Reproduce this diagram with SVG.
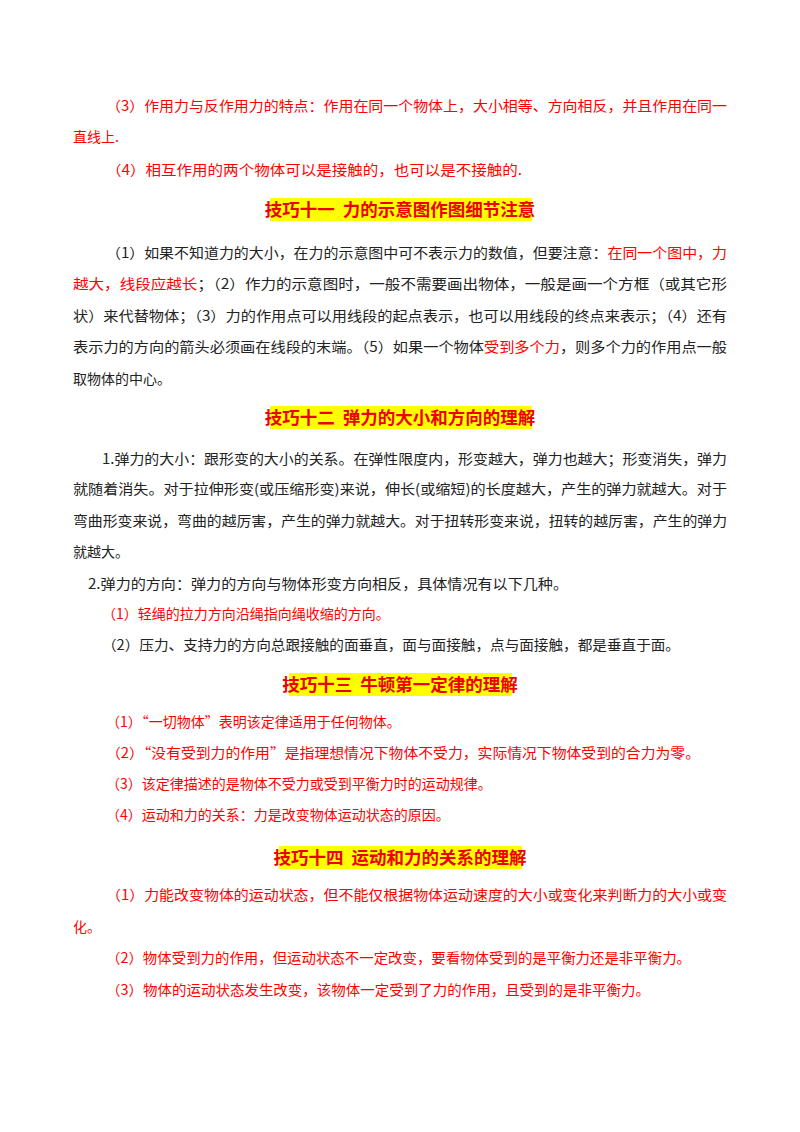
<svg xmlns="http://www.w3.org/2000/svg" width="800" height="1132" viewBox="0 0 800 1132">
<style>
text{font-family:"Noto Sans CJK SC","Liberation Sans",sans-serif;font-size:14px;fill:#222}
.r{fill:#f00}
.h{font-size:17.5px;font-weight:bold;fill:#e00;text-anchor:middle;white-space:pre}
.hb{fill:#ff0}
</style>
<rect width="800" height="1132" fill="#fff"/>
<g id="p10">
<text class="r" x="106" y="111" textLength="621" lengthAdjust="spacingAndGlyphs">（3）作用力与反作用力的特点：作用在同一个物体上，大小相等、方向相反，并且作用在同一</text>
<text class="r" x="73" y="142">直线上.</text>
<text class="r" x="106" y="175" textLength="416" lengthAdjust="spacingAndGlyphs">（4）相互作用的两个物体可以是接触的，也可以是不接触的.</text>
</g>
<g id="h11"><rect class="hb" x="270" y="198" width="262" height="23"/><text class="h" x="400" y="216" xml:space="preserve">技巧十一  力的示意图作图细节注意</text></g>
<g id="p11">
<text x="106" y="258" textLength="621" lengthAdjust="spacingAndGlyphs">（1）如果不知道力的大小，在力的示意图中可不表示力的数值，但要注意：<tspan class="r">在同一个图中，力</tspan></text>
<text x="73" y="289" textLength="654" lengthAdjust="spacingAndGlyphs"><tspan class="r">越大，线段应越长</tspan>；（2）作力的示意图时，一般不需要画出物体，一般是画一个方框（或其它形</text>
<text x="73" y="321" textLength="654" lengthAdjust="spacingAndGlyphs">状）来代替物体；（3）力的作用点可以用线段的起点表示，也可以用线段的终点来表示；（4）还有</text>
<text x="73" y="352" textLength="654" lengthAdjust="spacingAndGlyphs">表示力的方向的箭头必须画在线段的末端。（5）如果一个物体<tspan class="r">受到多个力</tspan>，则多个力的作用点一般</text>
<text x="73" y="384">取物体的中心。</text>
</g>
<g id="h12"><rect class="hb" x="270" y="406" width="262" height="23"/><text class="h" x="400" y="424" xml:space="preserve">技巧十二  弹力的大小和方向的理解</text></g>
<g id="p12">
<text x="102" y="464" textLength="625" lengthAdjust="spacingAndGlyphs">1.弹力的大小：跟形变的大小的关系。在弹性限度内，形变越大，弹力也越大；形变消失，弹力</text>
<text x="73" y="494" textLength="654" lengthAdjust="spacingAndGlyphs">就随着消失。对于拉伸形变(或压缩形变)来说，伸长(或缩短)的长度越大，产生的弹力就越大。对于</text>
<text x="73" y="526" textLength="654" lengthAdjust="spacingAndGlyphs">弯曲形变来说，弯曲的越厉害，产生的弹力就越大。对于扭转形变来说，扭转的越厉害，产生的弹力</text>
<text x="73" y="557">就越大。</text>
<text x="88" y="589" textLength="480" lengthAdjust="spacingAndGlyphs">2.弹力的方向：弹力的方向与物体形变方向相反，具体情况有以下几种。</text>
<text class="r" x="102" y="619">（1）轻绳的拉力方向沿绳指向绳收缩的方向。</text>
<text x="102" y="650" textLength="578" lengthAdjust="spacingAndGlyphs">（2）压力、支持力的方向总跟接触的面垂直，面与面接触，点与面接触，都是垂直于面。</text>
</g>
<g id="h13"><rect class="hb" x="289" y="673" width="223" height="23"/><text class="h" x="400" y="691" xml:space="preserve">技巧十三  牛顿第一定律的理解</text></g>
<g id="p13">
<text class="r" x="106" y="727">（1）“一切物体”表明该定律适用于任何物体。</text>
<text class="r" x="106" y="758" textLength="594" lengthAdjust="spacingAndGlyphs">（2）“没有受到力的作用”是指理想情况下物体不受力，实际情况下物体受到的合力为零。</text>
<text class="r" x="106" y="789">（3）该定律描述的是物体不受力或受到平衡力时的运动规律。</text>
<text class="r" x="106" y="820">（4）运动和力的关系：力是改变物体运动状态的原因。</text>
</g>
<g id="h14"><rect class="hb" x="279" y="846" width="243" height="23"/><text class="h" x="400" y="864" xml:space="preserve">技巧十四  运动和力的关系的理解</text></g>
<g id="p14">
<text class="r" x="106" y="900" textLength="621" lengthAdjust="spacingAndGlyphs">（1）力能改变物体的运动状态，但不能仅根据物体运动速度的大小或变化来判断力的大小或变</text>
<text class="r" x="73" y="932">化。</text>
<text class="r" x="106" y="963" textLength="585" lengthAdjust="spacingAndGlyphs">（2）物体受到力的作用，但运动状态不一定改变，要看物体受到的是平衡力还是非平衡力。</text>
<text class="r" x="106" y="995" textLength="544" lengthAdjust="spacingAndGlyphs">（3）物体的运动状态发生改变，该物体一定受到了力的作用，且受到的是非平衡力。</text>
</g>
</svg>
